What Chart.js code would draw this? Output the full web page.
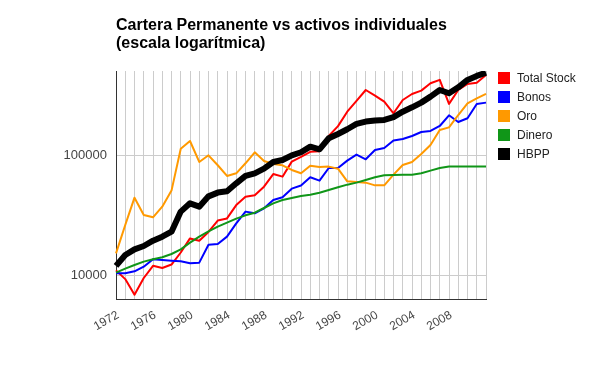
<!DOCTYPE html>
<html>
<head>
<meta charset="utf-8">
<script src="https://cdn.jsdelivr.net/npm/chart.js@4.4.1/dist/chart.umd.min.js"></script>
<style>
  body { margin: 0; background: #fff; }
</style>
</head>
<body>
<canvas id="chart" width="600" height="371"></canvas>
<script>
// Datos (valor de cada cartera, escala logarítmica)
const years = ['1972','1973','1974','1975','1976','1977','1978','1979','1980','1981',
  '1982','1983','1984','1985','1986','1987','1988','1989','1990','1991',
  '1992','1993','1994','1995','1996','1997','1998','1999','2000','2001',
  '2002','2003','2004','2005','2006','2007','2008','2009','2010','2011','2012'];
const xTickLabels = ['1972','1976','1980','1984','1988','1992','1996','2000','2004','2008'];
const yTicks = [10000, 100000];

const totalStock = [11000, 9300, 6900, 9500, 12000, 11500, 12300, 15500, 20300, 19400,
  23000, 28600, 29800, 38500, 45200, 46400, 54800, 69800, 66400, 88600,
  97000, 107000, 108000, 145000, 175000, 231000, 284000, 350000, 314000, 280000,
  224000, 289000, 324000, 346000, 398000, 425000, 268000, 350000, 393000, 403000, 467000];
const bonos = [10400, 10400, 10800, 11800, 13600, 13400, 13250, 13100, 12600, 12750,
  18000, 18240, 21000, 27100, 33950, 32870, 36170, 42470, 44670, 52750,
  56000, 65600, 61500, 78400, 78400, 90300, 101300, 92600, 110800, 115200,
  133000, 136800, 144900, 156400, 159500, 175500, 215400, 189600, 203400, 267800, 274800];
const oro = [15250, 26230, 44350, 31850, 30430, 37300, 50800, 113600, 131600, 88000,
  100000, 82600, 67300, 70800, 85800, 105900, 89700, 84700, 82600, 75500,
  70800, 82000, 80000, 80500, 77400, 60700, 59900, 59200, 56200, 56200,
  69000, 83000, 88000, 102600, 122000, 162600, 171000, 216600, 271200, 298500, 324500];
const dinero = [10520, 11360, 12190, 13000, 13600, 14130, 15060, 16470, 18720, 21000,
  23200, 25450, 27480, 29660, 31620, 33270, 36390, 39810, 42460, 44060,
  45820, 46970, 48830, 51400, 54100, 56950, 59200, 62270, 65540, 68100,
  68600, 68800, 69000, 70800, 74500, 78400, 80500, 80500, 80500, 80500, 80500];
const hbpp = [12000, 14770, 16470, 17550, 19440, 20990, 23100, 33950, 39800, 37350,
  45500, 48900, 50100, 58400, 67300, 70800, 77400, 88000, 91400, 100000,
  106000, 118100, 112200, 138600, 150600, 164800, 182500, 190900, 194600, 196900,
  208000, 231000, 251000, 274800, 308300, 350000, 328600, 368700, 424700, 458500, 488700];

const FONT = "'Liberation Sans', Arial, sans-serif";
Chart.defaults.font.family = FONT;

// leyenda a la derecha, pegada arriba del área del gráfico
const legendRight = {
  id: 'legendRight',
  afterDraw(chart) {
    const ctx = chart.ctx;
    const x = chart.chartArea.right + 12;
    ctx.save();
    ctx.font = '12px ' + FONT;
    ctx.textBaseline = 'middle';
    chart.data.datasets.forEach((ds, i) => {
      const y = chart.chartArea.top + 1 + i * 19;
      ctx.fillStyle = ds.borderColor;
      ctx.fillRect(x, y, 12, 12);
      ctx.fillStyle = '#222';
      ctx.fillText(ds.label, x + 19, y + 6.5);
    });
    ctx.restore();
  }
};

function line(label, data, color, width, order) {
  return {
    label, data,
    borderColor: color,
    backgroundColor: color,
    borderWidth: width,
    pointRadius: 0,
    tension: 0,
    fill: false,
    order,
    borderJoinStyle: 'round'
  };
}

new Chart(document.getElementById('chart').getContext('2d'), {
  type: 'line',
  data: {
    labels: years,
    datasets: [
      line('Total Stock', totalStock, '#ff0000', 2, 4),
      line('Bonos', bonos, '#0000ff', 2, 3),
      line('Oro', oro, '#ff9900', 2, 2),
      line('Dinero', dinero, '#109618', 2, 1),
      line('HBPP', hbpp, '#000000', 6, 0)
    ]
  },
  options: {
    responsive: false,
    animation: false,
    layout: { padding: { right: 114 } },
    plugins: {
      legend: { display: false },
      tooltip: { enabled: false },
      title: {
        display: true,
        text: ['Cartera Permanente vs activos individuales', '(escala logarítmica)'],
        align: 'start',
        fullSize: false,
        color: '#000',
        font: { size: 16, weight: 'bold', lineHeight: 1.1 },
        padding: { top: 17, bottom: 18.8 }
      }
    },
    scales: {
      x: {
        grid: { color: '#cccccc', drawTicks: false },
        border: { color: '#333333' },
        ticks: {
          autoSkip: false,
          minRotation: 30,
          maxRotation: 30,
          padding: 9,
          labelOffset: 2,
          color: '#444444',
          font: { size: 12 },
          callback(v, i) {
            return xTickLabels.includes(years[i]) ? years[i] : '';
          }
        },
        afterFit(axis) { axis.height = 72; }
      },
      y: {
        type: 'logarithmic',
        min: 6350,
        max: 504000,
        grid: { color: '#cccccc', drawTicks: false },
        border: { color: '#333333' },
        ticks: {
          padding: 9,
          color: '#444444',
          font: { size: 13 },
          callback: v => String(v)
        },
        afterBuildTicks(axis) {
          axis.ticks = yTicks.map(v => ({ value: v }));
        },
        afterFit(axis) { axis.width = 116; }
      }
    }
  },
  plugins: [legendRight]
});
</script>
</body>
</html>
